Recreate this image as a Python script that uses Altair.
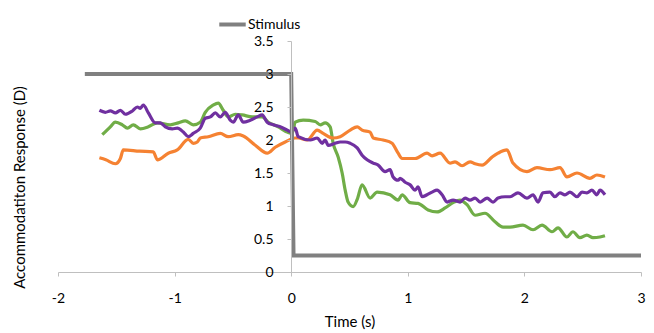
import altair as alt
import pandas as pd

# Stimulus step
stim_x = [-1.77, 0.0, 0.02, 3.0]
stim_y = [3.0, 3.0, 0.25, 0.25]

orange_x = [-1.645, -1.59, -1.508, -1.465, -1.44, -1.30, -1.183, -1.148, -1.054, -0.977, -0.883, -0.84,
            -0.805, -0.78, -0.711, -0.608, -0.54, -0.454, -0.411, -0.308, -0.206, -0.137, -0.051, 0.034,
            0.06, 0.137, 0.223, 0.274, 0.36, 0.42, 0.506, 0.566, 0.608, 0.677, 0.703, 0.788, 0.865, 0.917,
            0.951, 1.063, 1.165, 1.208, 1.277, 1.362, 1.405, 1.465, 1.534, 1.577, 1.637, 1.722, 1.774,
            1.851, 1.902, 2.022, 2.108, 2.219, 2.305, 2.365, 2.451, 2.562, 2.622, 2.691]
orange_y = [1.73, 1.70, 1.64, 1.72, 1.85, 1.83, 1.82, 1.70, 1.80, 1.85, 2.01, 1.95,
            1.97, 2.03, 2.05, 2.10, 2.05, 2.08, 2.06, 1.92, 1.80, 1.89, 1.97, 2.03,
            2.03, 2.00, 2.15, 2.10, 2.03, 2.05, 2.15, 2.20, 2.15, 2.12, 2.03, 2.00, 1.95, 1.80,
            1.72, 1.72, 1.80, 1.76, 1.80, 1.65, 1.67, 1.61, 1.67, 1.64, 1.62, 1.74, 1.80,
            1.85, 1.65, 1.52, 1.58, 1.55, 1.58, 1.44, 1.50, 1.42, 1.47, 1.44]

green_x = [-1.62, -1.551, -1.508, -1.448, -1.405, -1.354, -1.294, -1.225, -1.148, -1.037, -0.968, -0.908,
           -0.84, -0.78, -0.737, -0.668, -0.626, -0.583, -0.54, -0.48, -0.42, -0.334, -0.249, -0.197,
           -0.111, -0.034, 0.009, 0.034, 0.103, 0.206, 0.249, 0.291, 0.334, 0.36, 0.403, 0.437, 0.463,
           0.488, 0.531, 0.566, 0.608, 0.677, 0.737, 0.848, 0.917, 0.951, 1.02, 1.088, 1.174, 1.251,
           1.32, 1.388, 1.448, 1.508, 1.577, 1.662, 1.748, 1.817, 1.877, 1.988, 2.074, 2.151, 2.237,
           2.288, 2.365, 2.416, 2.476, 2.536, 2.588, 2.648, 2.691]
green_y = [2.08, 2.20, 2.27, 2.23, 2.18, 2.23, 2.17, 2.20, 2.26, 2.23, 2.26, 2.29,
           2.23, 2.27, 2.42, 2.53, 2.56, 2.45, 2.35, 2.39, 2.38, 2.35, 2.35, 2.27,
           2.20, 2.12, 2.10, 2.27, 2.30, 2.28, 2.23, 2.26, 2.20, 1.95, 1.74, 1.50, 1.24,
           1.06, 0.99, 1.10, 1.32, 1.12, 1.21, 1.17, 1.09, 1.17, 1.05, 1.04, 0.94, 0.91,
           0.97, 1.05, 1.09, 1.02, 0.86, 0.89, 0.76, 0.68, 0.68, 0.71, 0.64, 0.71, 0.61,
           0.67, 0.53, 0.61, 0.52, 0.56, 0.52, 0.53, 0.55]

purple_x = [-1.645, -1.594, -1.551, -1.508, -1.465, -1.422, -1.362, -1.32, -1.294, -1.268, -1.225, -1.165,
            -1.123, -1.08, -1.02, -0.977, -0.925, -0.883, -0.84, -0.78, -0.737, -0.694, -0.651, -0.608,
            -0.566, -0.523, -0.497, -0.454, -0.411, -0.351, -0.291, -0.249, -0.206, -0.154, -0.094,
            -0.034, 0.0, 0.034, 0.06, 0.163, 0.223, 0.266, 0.291, 0.317, 0.377, 0.42, 0.463, 0.506,
            0.566, 0.608, 0.651, 0.703, 0.746, 0.805, 0.848, 0.874, 0.917, 0.934, 0.977, 1.02, 1.063,
            1.088, 1.123, 1.165, 1.208, 1.251, 1.294, 1.337, 1.388, 1.448, 1.491, 1.534, 1.577, 1.62,
            1.68, 1.731, 1.774, 1.834, 1.877, 1.945, 2.022, 2.074, 2.117, 2.159, 2.219, 2.262, 2.305,
            2.348, 2.391, 2.451, 2.494, 2.536, 2.579, 2.622, 2.648, 2.691]
purple_y = [2.45, 2.42, 2.44, 2.41, 2.45, 2.39, 2.44, 2.50, 2.48, 2.53, 2.41, 2.26,
            2.26, 2.20, 2.17, 2.18, 2.12, 2.05, 2.10, 2.18, 2.33, 2.35, 2.41, 2.35,
            2.42, 2.30, 2.27, 2.38, 2.27, 2.30, 2.35, 2.38, 2.27, 2.23, 2.20,
            2.15, 2.12, 2.18, 2.05, 2.00, 2.03, 1.95, 2.00, 1.92, 1.95, 1.97, 1.97, 1.95,
            1.88, 1.77, 1.70, 1.65, 1.62, 1.52, 1.55, 1.44, 1.39, 1.42, 1.36, 1.32, 1.24,
            1.29, 1.14, 1.17, 1.21, 1.24, 1.17, 1.06, 1.09, 1.06, 1.12, 1.09, 1.12, 1.06,
            1.12, 1.06, 1.12, 1.14, 1.14, 1.20, 1.12, 1.17, 1.06, 1.20, 1.21, 1.14, 1.20,
            1.17, 1.21, 1.14, 1.21, 1.20, 1.24, 1.17, 1.24, 1.17]

x_ticks = [-2, -1, 0, 1, 2, 3]
y_ticks = [0, 0.5, 1, 1.5, 2, 2.5, 3, 3.5]

series_names = ["Green", "Orange", "Purple"]
series_colors = ["#70AD47", "#F58232", "#7030A0"]

rows = []
for name, xs, ys in [("Green", green_x, green_y), ("Orange", orange_x, orange_y), ("Purple", purple_x, purple_y)]:
    for i, (a, b) in enumerate(zip(xs, ys)):
        rows.append({"series": name, "t": a, "r": b, "i": i})
df = pd.DataFrame(rows)
stim = pd.DataFrame({"t": stim_x, "r": stim_y, "name": "Stimulus", "i": range(len(stim_x))})

FONT = "Lato"
W, H = 583, 231

x_scale = alt.Scale(domain=[-2, 3], nice=False, zero=False)
y_scale = alt.Scale(domain=[0, 3.5], nice=False)

x_axis = alt.Axis(title="Time (s)", values=x_ticks, grid=False, domainColor="#BFBFBF",
                  tickColor="#BFBFBF", tickSize=4, labelPadding=15, labelFontSize=14, labelColor="#000000",
                  labelFont=FONT, titleFont=FONT, titleFontSize=15, titleFontWeight="normal",
                  titleColor="#000000", titlePadding=9, labelFlush=False, labelOverlap=False,
                  labelExpr="datum.value + ''", zindex=1)
y_axis = alt.Axis(title="Accommodatiton Response (D)", values=y_ticks, tickCount=8,
                  grid=False, domainColor="#BFBFBF", tickColor="#BFBFBF", tickSize=4, labelPadding=14,
                  labelFontSize=14, labelColor="#000000", labelFont=FONT, offset=-233,
                  titleFont=FONT, titleFontSize=15, titleFontWeight="normal", titleColor="#000000",
                  titleX=-264, titleY=146, labelFlush=False, labelOverlap=False, labelBound=False,
                  labelExpr="datum.value + ''", zindex=1)

lines = alt.Chart(df).mark_line(strokeWidth=3.2, interpolate="monotone").encode(
    x=alt.X("t:Q", scale=x_scale, axis=x_axis),
    y=alt.Y("r:Q", scale=y_scale, axis=y_axis),
    color=alt.Color("series:N", scale=alt.Scale(domain=series_names, range=series_colors), legend=None),
    order="i:Q",
)

stim_line = alt.Chart(stim).mark_line(strokeWidth=4).encode(
    x=alt.X("t:Q", scale=x_scale, axis=x_axis),
    y=alt.Y("r:Q", scale=y_scale, axis=y_axis),
    color=alt.Color("name:N", scale=alt.Scale(domain=["Stimulus"], range=["#808080"]),
                    legend=alt.Legend(title=None, orient="none", legendX=159, legendY=-32,
                                      symbolType="stroke", symbolSize=700, symbolStrokeWidth=4,
                                      labelFont=FONT, labelFontSize=14, labelColor="#000000",
                                      labelOffset=0, padding=0)),
    order="i:Q",
)

chart = alt.layer(lines, stim_line).resolve_scale(color="independent").properties(
    width=W, height=H,
    autosize=alt.AutoSizeParams(type="none"),
    padding={"left": 50, "top": 33, "right": 5, "bottom": 60},
).configure_view(stroke=None)

chart.save("out.html", embed_options={"renderer": "svg", "actions": False})
